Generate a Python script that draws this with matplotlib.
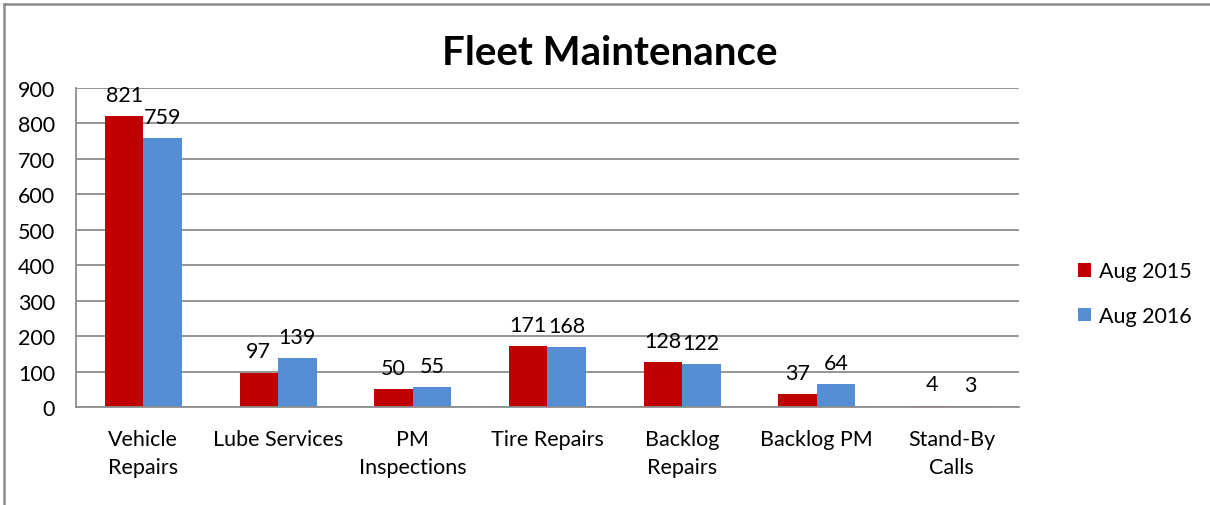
import numpy as np
import matplotlib.pyplot as plt
from matplotlib.lines import Line2D

# --- data ---
categories = ["Vehicle\nRepairs", "Lube Services", "PM\nInspections", "Tire Repairs",
              "Backlog\nRepairs", "Backlog PM", "Stand-By\nCalls"]
aug_2015 = [821, 97, 50, 171, 128, 37, 4]
aug_2016 = [759, 139, 55, 168, 122, 64, 3]
yticks = [0, 100, 200, 300, 400, 500, 600, 700, 800, 900]

plt.rcParams['font.family'] = ['Lato', 'DejaVu Sans']

fig = plt.figure(figsize=(12.1, 5.06), dpi=100)
ax = fig.add_axes([0.0628, 0.1937, 0.7792, 0.6304])

x = np.arange(len(categories))
w = 0.286
b1 = ax.bar(x - w / 2, aug_2015, w, color='#c00000', label='Aug 2015')
b2 = ax.bar(x + w / 2, aug_2016, w, color='#558ed5', label='Aug 2016')

for bars, vals in ((b1, aug_2015), (b2, aug_2016)):
    for r, v in zip(bars, vals):
        ax.annotate(str(v), (r.get_x() + r.get_width() / 2, r.get_height()),
                    xytext=(0, 8), textcoords='offset points',
                    ha='center', va='bottom', fontsize=15.5)

ax.set_xlim(-0.5, len(categories) - 0.5)
ax.set_ylim(0, 900)
ax.set_yticks(yticks)
ax.set_xticks(x)
ax.set_xticklabels(categories, fontsize=15.5, linespacing=1.5)
ax.tick_params(axis='y', labelsize=15.5, length=0, pad=15)
ax.tick_params(axis='x', length=0, pad=16)
ax.yaxis.grid(True, color='#8c8c8c', linewidth=1.3)
ax.set_axisbelow(True)
for s in ('top', 'right'):
    ax.spines[s].set_visible(False)
for s in ('left', 'bottom'):
    ax.spines[s].set_color('#8c8c8c')
    ax.spines[s].set_linewidth(1.3)

fig.text(0.504, 0.895, "Fleet Maintenance", ha='center', va='center',
         fontsize=29, fontweight='bold')

fig.legend(handles=[b1, b2], loc='upper left', bbox_to_anchor=(0.875, 0.52),
           frameon=False, fontsize=15.5, handlelength=0.6, handleheight=0.6,
           handletextpad=0.35, labelspacing=1.15)

# outer chart border (only top and left visible in the crop)
fig.add_artist(Line2D([0.003, 0.003], [0, 0.991], transform=fig.transFigure,
                      color='#8c8c8c', linewidth=1.8))
fig.add_artist(Line2D([0.003, 1.0], [0.991, 0.991], transform=fig.transFigure,
                      color='#8c8c8c', linewidth=1.8))

fig.savefig("out.png", dpi=100)
